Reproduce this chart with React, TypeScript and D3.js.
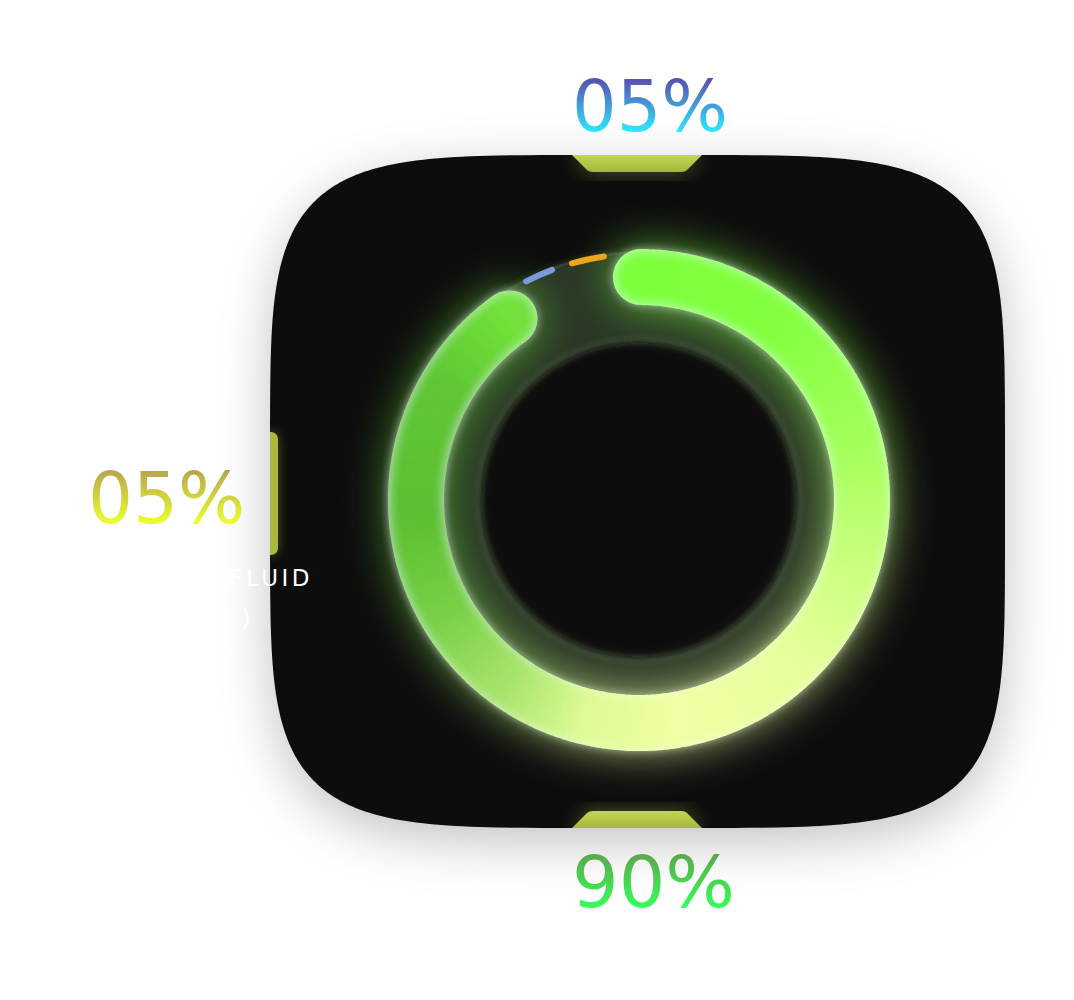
import React, { useEffect, useRef } from "react";
import * as d3 from "d3";

// series shown in the gauge
const categories = ["Fluid", "Reserve", "Low"];
const values = [90, 5, 5];
const seriesColors = ["#7dff3a", "#7f97dc", "#eea614"];
const labelTop = ["#5aa94c", "#5a4fb0", "#b9a64f"];
const labelBottom = ["#34ff58", "#2ee6ff", "#ecff2e"];
const legendLines = ["BRAKE FLUID", "( EMPTY )"];

// colour of the main arc along its sweep (degrees clockwise from 12 o'clock)
const arcStopAngles = [0, 40, 75, 105, 135, 170, 195, 215, 240, 265, 300, 325];
const arcStopColors = ["#7dff3a", "#84ff40", "#a2ff58", "#c8ff7c", "#e6ff9c", "#f0ffa4", "#dcfa94", "#a8e46c", "#78d046", "#5cc030", "#5ec632", "#72e23a"];

const W = 1074, H = 1000;
const frame = { cx: 637.5, cy: 491.5, a: 367.5, b: 336.5, n: 5 };
const ring = { cx: 639, cy: 500, inner: 195, outer: 251 };
const rad = (d: number) => (d * Math.PI) / 180;

export default function App() {
  const ref = useRef<SVGSVGElement>(null);

  useEffect(() => {
    const svg = d3.select(ref.current);
    svg.selectAll("*").remove();
    const defs = svg.append("defs");

    // superellipse frame outline
    const pts = d3.range(0, 361).map(i => {
      const t = rad(i);
      const c = Math.cos(t), s = Math.sin(t);
      return [
        frame.cx + frame.a * Math.sign(c) * Math.pow(Math.abs(c), 2 / frame.n),
        frame.cy + frame.b * Math.sign(s) * Math.pow(Math.abs(s), 2 / frame.n),
      ] as [number, number];
    });
    const framePath = d3.line().curve(d3.curveLinearClosed)(pts) as string;

    const shadow = defs.append("filter").attr("id", "frameShadow")
      .attr("x", "-20%").attr("y", "-20%").attr("width", "140%").attr("height", "140%");
    shadow.append("feDropShadow").attr("dx", 0).attr("dy", 14).attr("stdDeviation", 26)
      .attr("flood-color", "#000").attr("flood-opacity", 0.24);

    defs.append("clipPath").attr("id", "frameClip").append("path").attr("d", framePath);

    const blur = (id: string, sd: number) =>
      defs.append("filter").attr("id", id).attr("x", "-50%").attr("y", "-50%")
        .attr("width", "200%").attr("height", "200%")
        .append("feGaussianBlur").attr("stdDeviation", sd);
    blur("soft3", 3);
    blur("soft6", 6);
    blur("soft10", 10);

    // neon filter: wide green glow + white halo + white inner edge
    const neon = defs.append("filter").attr("id", "neon")
      .attr("x", "-30%").attr("y", "-30%").attr("width", "160%").attr("height", "160%");
    neon.append("feGaussianBlur").attr("in", "SourceGraphic").attr("stdDeviation", 22).attr("result", "wide");
    neon.append("feComponentTransfer").attr("in", "wide").attr("result", "wideA")
      .append("feFuncA").attr("type", "linear").attr("slope", 0.7);
    neon.append("feGaussianBlur").attr("in", "SourceAlpha").attr("stdDeviation", 4).attr("result", "near");
    neon.append("feFlood").attr("flood-color", "#f4ffe8").attr("flood-opacity", 0.5).attr("result", "white");
    neon.append("feComposite").attr("in", "white").attr("in2", "near").attr("operator", "in").attr("result", "halo");
    neon.append("feComponentTransfer").attr("in", "SourceAlpha").attr("result", "inv")
      .append("feFuncA").attr("type", "table").attr("tableValues", "1 0");
    neon.append("feGaussianBlur").attr("in", "inv").attr("stdDeviation", 6).attr("result", "invBlur");
    neon.append("feComposite").attr("in", "white").attr("in2", "invBlur").attr("operator", "in").attr("result", "edgeW");
    neon.append("feComposite").attr("in", "edgeW").attr("in2", "SourceAlpha").attr("operator", "in").attr("result", "innerEdge");
    const merge = neon.append("feMerge");
    ["wideA", "halo", "SourceGraphic", "innerEdge"].forEach(k => merge.append("feMergeNode").attr("in", k));

    // value label positions (baseline, left edge, width)
    const labelPos = [
      { x: 572, y: 907, len: 163 },
      { x: 572, y: 131, len: 156 },
      { x: 88, y: 523, len: 157 },
    ];
    const capH = 52;

    // text gradients in user space so the colour spans the digits only
    categories.forEach((c, i) => {
      const g = defs.append("linearGradient").attr("id", "lab" + i)
        .attr("gradientUnits", "userSpaceOnUse")
        .attr("x1", 0).attr("y1", labelPos[i].y - capH).attr("x2", 0).attr("y2", labelPos[i].y);
      g.append("stop").attr("offset", "0%").attr("stop-color", labelTop[i]);
      g.append("stop").attr("offset", "100%").attr("stop-color", labelBottom[i]);
    });
    const tabGrad = defs.append("linearGradient").attr("id", "tabGrad")
      .attr("x1", 0).attr("y1", 0).attr("x2", 0).attr("y2", 1);
    tabGrad.append("stop").attr("offset", "0%").attr("stop-color", "#c2d84e");
    tabGrad.append("stop").attr("offset", "100%").attr("stop-color", "#a6b63e");

    // frame
    svg.append("path").attr("d", framePath).attr("fill", "#0c0c0c").attr("filter", "url(#frameShadow)");

    const inner = svg.append("g").attr("clip-path", "url(#frameClip)");

    // tabs on the frame edge
    const top = frame.cy - frame.b, bottom = frame.cy + frame.b, left = frame.cx - frame.a;
    const tx = 637;
    const tabTop = `M${tx - 65},${top} L${tx + 65},${top} L${tx + 50},${top + 15} Q${tx + 48},${top + 17} ${tx + 44},${top + 17} L${tx - 44},${top + 17} Q${tx - 48},${top + 17} ${tx - 50},${top + 15} Z`;
    const tabBot = `M${tx - 65},${bottom} L${tx + 65},${bottom} L${tx + 50},${bottom - 15} Q${tx + 48},${bottom - 17} ${tx + 44},${bottom - 17} L${tx - 44},${bottom - 17} Q${tx - 48},${bottom - 17} ${tx - 50},${bottom - 15} Z`;
    [tabTop, tabBot].forEach(d => {
      inner.append("path").attr("d", d).attr("fill", "#c8d850").attr("opacity", 0.4).attr("filter", "url(#soft10)");
      inner.append("path").attr("d", d).attr("fill", "url(#tabGrad)");
    });
    inner.append("rect").attr("x", left - 8).attr("y", 432).attr("width", 16).attr("height", 123).attr("rx", 7)
      .attr("fill", "#c8d850").attr("opacity", 0.35).attr("filter", "url(#soft6)");
    inner.append("rect").attr("x", left - 8).attr("y", 432).attr("width", 16).attr("height", 123).attr("rx", 7)
      .attr("fill", "#aab83e");

    const g = inner.append("g").attr("transform", `translate(${ring.cx},${ring.cy})`);

    // track band and inner disc
    g.append("circle").attr("r", 249).attr("fill", "#2b3725").attr("filter", "url(#soft3)");
    g.append("circle").attr("r", 247).attr("fill", "none").attr("stroke", "#454a42").attr("stroke-width", 3).attr("opacity", 0.6);
    g.append("circle").attr("r", 159).attr("fill", "none").attr("stroke", "#56604c").attr("stroke-width", 5)
      .attr("opacity", 0.7).attr("filter", "url(#soft3)");
    g.append("circle").attr("r", 157).attr("fill", "#0c0c0c").attr("filter", "url(#soft3)");

    // pie layout
    const pie = d3.pie<number>().sort(null).value(d => d)
      .startAngle(rad(0.5)).endAngle(rad(360.5));
    const slices = pie(values);

    // main arc, coloured along the sweep, round caps under the body
    const main = slices[0];
    const colorAt = d3.scaleLinear<string>().domain(arcStopAngles.map(rad)).range(arcStopColors)
      .interpolate(d3.interpolateRgb).clamp(true);
    const arcGen = d3.arc<any>().innerRadius(ring.inner).outerRadius(ring.outer);
    const steps = 240;
    const span = main.endAngle - main.startAngle;
    const neonG = g.append("g").attr("filter", "url(#neon)");
    const midR = (ring.inner + ring.outer) / 2, capR = (ring.outer - ring.inner) / 2;
    [main.startAngle, main.endAngle].forEach(a => {
      neonG.append("circle")
        .attr("cx", midR * Math.sin(a)).attr("cy", -midR * Math.cos(a)).attr("r", capR)
        .attr("fill", colorAt(a));
    });
    d3.range(steps).forEach(i => {
      const a0 = main.startAngle + (span * i) / steps;
      const a1 = main.startAngle + (span * (i + 1)) / steps;
      neonG.append("path")
        .attr("d", arcGen({ startAngle: a0, endAngle: Math.min(a1 + 0.004, main.endAngle) }) as string)
        .attr("fill", colorAt((a0 + a1) / 2));
    });

    // small segments in the gap
    const insets = [[0, 0], [7.5, 2.5], [1, 8]];
    const thin = d3.arc<any>().innerRadius(243).outerRadius(249).cornerRadius(3);
    slices.slice(1).forEach((s, k) => {
      const i = k + 1;
      g.append("path")
        .attr("d", thin({ startAngle: s.startAngle + rad(insets[i][0]), endAngle: s.endAngle - rad(insets[i][1]) }) as string)
        .attr("fill", seriesColors[i]);
    });

    // value labels
    const fmt = (v: number) => d3.format("02d")(v) + "%";
    values.forEach((v, i) => {
      svg.append("text")
        .attr("x", labelPos[i].x).attr("y", labelPos[i].y)
        .attr("textLength", labelPos[i].len).attr("lengthAdjust", "spacingAndGlyphs")
        .attr("font-family", "DejaVu Sans, sans-serif").attr("font-size", 71)
        .attr("fill", `url(#lab${i})`)
        .text(fmt(v));
    });

    // legend
    const legend = [{ x: 313, y: 586 }, { x: 254, y: 626 }];
    legendLines.forEach((t, i) => {
      svg.append("text").attr("x", legend[i].x).attr("y", legend[i].y).attr("text-anchor", "end")
        .attr("font-family", "DejaVu Sans, sans-serif").attr("font-size", 23)
        .attr("letter-spacing", 3.5).attr("fill", "#ffffff")
        .text(t);
    });
  }, []);

  return (
    <svg ref={ref} width={W} height={H} style={{ position: "absolute", left: 0, top: 0, background: "#ffffff" }} />
  );
}
